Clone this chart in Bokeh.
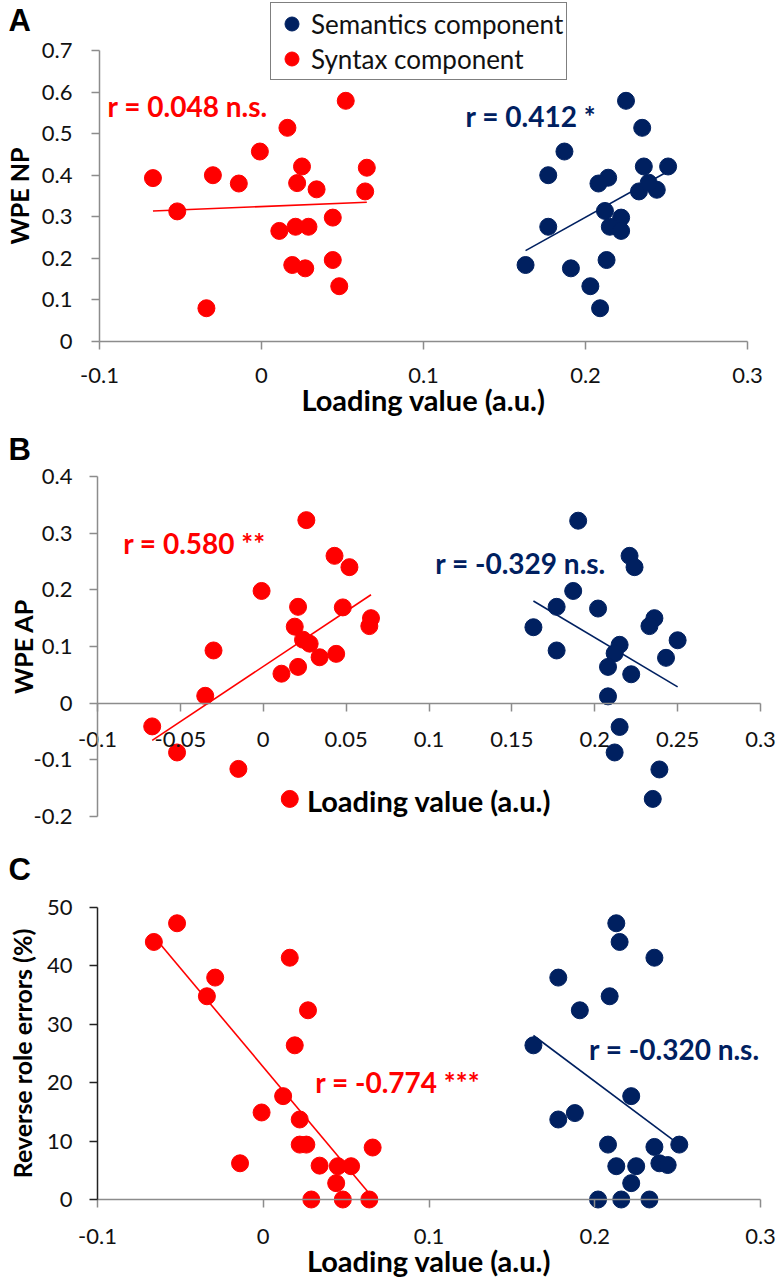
import numpy as np
from bokeh.plotting import figure
from bokeh.models import Range1d, FixedTicker, Label, Legend, LegendItem
from bokeh.core.properties import value
from bokeh.layouts import column
from bokeh.embed import file_html
from bokeh.resources import INLINE

RED = "#FF0000"
NAVY = "#002060"
GRAY = "#8C8C8C"
TEXT = "#111111"
FONT = "Lato"

# ---------------- data ----------------
# Panel A: WPE NP
A_syn_x = [-0.067, -0.052, -0.030, -0.014, -0.034, -0.001, 0.016, 0.025, 0.022, 0.034, 0.011,
           0.021, 0.029, 0.044, 0.019, 0.027, 0.044, 0.048, 0.052, 0.065, 0.064]
A_syn_y = [0.393, 0.313, 0.400, 0.380, 0.080, 0.457, 0.514, 0.421, 0.381, 0.366, 0.266,
           0.276, 0.276, 0.298, 0.184, 0.176, 0.196, 0.133, 0.579, 0.418, 0.361]
A_sem_x = [0.225, 0.235, 0.187, 0.177, 0.214, 0.208, 0.236, 0.251, 0.233, 0.244, 0.239,
           0.177, 0.212, 0.222, 0.215, 0.222, 0.163, 0.191, 0.213, 0.203, 0.209]
A_sem_y = [0.579, 0.514, 0.457, 0.400, 0.394, 0.380, 0.421, 0.421, 0.361, 0.365, 0.382,
           0.276, 0.314, 0.298, 0.276, 0.266, 0.184, 0.176, 0.196, 0.133, 0.080]

# Panel B: WPE AP
B_syn_x = [-0.067, -0.052, -0.030, -0.035, -0.015, -0.001, 0.016, 0.011, 0.021, 0.019, 0.021,
           0.024, 0.028, 0.026, 0.034, 0.044, 0.043, 0.052, 0.048, 0.065, 0.064]
B_syn_y = [-0.041, -0.087, 0.093, 0.013, -0.116, 0.198, -0.169, 0.052, 0.170, 0.135, 0.064,
           0.112, 0.105, 0.323, 0.081, 0.087, 0.260, 0.240, 0.169, 0.150, 0.136]
B_sem_x = [0.190, 0.221, 0.224, 0.187, 0.177, 0.202, 0.163, 0.177, 0.236, 0.233, 0.250,
           0.215, 0.212, 0.243, 0.208, 0.222, 0.208, 0.215, 0.212, 0.239, 0.235]
B_sem_y = [0.322, 0.260, 0.240, 0.198, 0.170, 0.167, 0.134, 0.093, 0.150, 0.136, 0.111,
           0.103, 0.088, 0.080, 0.064, 0.051, 0.012, -0.042, -0.087, -0.117, -0.169]

# Panel C: Reverse role errors (%)
C_syn_x = [-0.066, -0.052, -0.029, -0.034, -0.014, -0.001, 0.016, 0.012, 0.019, 0.022, 0.022,
           0.026, 0.027, 0.034, 0.029, 0.044, 0.045, 0.048, 0.053, 0.066, 0.064]
C_syn_y = [44.1, 47.3, 38.0, 34.8, 6.2, 14.9, 41.4, 17.7, 26.4, 13.7, 9.4,
           9.4, 32.4, 5.8, 0.0, 2.8, 5.7, 0.0, 5.7, 8.9, 0.0]
C_sem_x = [0.213, 0.215, 0.236, 0.178, 0.209, 0.191, 0.163, 0.222, 0.178, 0.188, 0.208,
           0.236, 0.251, 0.213, 0.225, 0.239, 0.244, 0.222, 0.202, 0.216, 0.233]
C_sem_y = [47.3, 44.1, 41.4, 38.0, 34.8, 32.4, 26.4, 17.7, 13.7, 14.8, 9.4,
           9.0, 9.4, 5.7, 5.7, 6.2, 5.9, 2.8, 0.0, 0.0, 0.0]

SERIES_NAMES = ["Semantics component", "Syntax component"]
R_TEXT_A = ["r = 0.412 *", "r = 0.048 n.s."]
R_TEXT_B = ["r = -0.329 n.s.", "r = 0.580 **"]
R_TEXT_C = ["r = -0.320 n.s.", "r = -0.774 ***"]

X_TICKS = [-0.1, 0.0, 0.1, 0.2, 0.3]
X_TICK_LABELS = ["-0.1", "0", "0.1", "0.2", "0.3"]
X_TICKS_B = [-0.1, -0.05, 0.0, 0.05, 0.1, 0.15, 0.2, 0.25, 0.3]
X_TICK_LABELS_B = ["-0.1", "-0.05", "0", "0.05", "0.1", "0.15", "0.2", "0.25", "0.3"]
Y_TICKS_A = [0.0, 0.1, 0.2, 0.3, 0.4, 0.5, 0.6, 0.7]
Y_TICK_LABELS_A = ["0", "0.1", "0.2", "0.3", "0.4", "0.5", "0.6", "0.7"]
Y_TICKS_B = [-0.2, -0.1, 0.0, 0.1, 0.2, 0.3, 0.4]
Y_TICK_LABELS_B = ["-0.2", "-0.1", "0", "0.1", "0.2", "0.3", "0.4"]
Y_TICKS_C = [0, 10, 20, 30, 40, 50]
Y_TICK_LABELS_C = ["0", "10", "20", "30", "40", "50"]

W = 778


def rng(v0, p0, v1, p1, size):
    """Range such that value v0 sits at pixel p0 and v1 at pixel p1 (pixels from low end)."""
    k = (v1 - v0) / (p1 - p0)
    return Range1d(start=v0 - p0 * k, end=v0 + (size - p0) * k), k


def style_axis(ax, ticks, labels, line_color=GRAY):
    ax.ticker = FixedTicker(ticks=ticks)
    ax.major_label_overrides = dict(zip(ticks, labels))
    ax.minor_tick_line_color = None
    ax.major_tick_in = 0
    ax.major_tick_out = 8
    ax.axis_line_color = line_color
    ax.axis_line_width = 1.5
    ax.major_tick_line_color = line_color
    ax.major_tick_line_width = 1.5
    ax.major_label_text_font = FONT
    ax.major_label_text_font_size = "22px"
    ax.major_label_text_color = TEXT
    ax.axis_label_text_font = FONT
    ax.axis_label_text_font_style = "bold"
    ax.axis_label_text_font_size = "29px"
    ax.axis_label_text_color = "#000000"


def panel(h, xrk, yrk, xt, xl, yt, yl, ylabel, ylabel_x, letter, letter_y,
          sem, syn, rtexts, rpos, x_std, x_lab_std, ylab_gap, y_line=GRAY):
    xr, kx = xrk
    yr, _ = yrk
    p = figure(width=W, height=h, x_range=xr, y_range=yr, title=None,
               toolbar_location=None, output_backend="svg", min_border=0)
    p.outline_line_color = None
    p.xgrid.visible = False
    p.ygrid.visible = False
    p.background_fill_color = "white"

    xa = p.xaxis[0]
    ya = p.yaxis[0]
    xa.fixed_location = 0
    ya.fixed_location = -0.1
    style_axis(xa, xt, xl)
    style_axis(ya, yt, [""] * len(yt), y_line)
    xa.bounds = (xt[0], xt[-1])
    ya.bounds = (yt[0], yt[-1])
    xa.axis_label = "Loading value (a.u.)"
    xa.major_label_standoff = x_std
    xa.axis_label_standoff = x_lab_std

    # y tick labels, right-aligned at a fixed pixel gap left of the axis line
    lab_x = -0.1 - ylab_gap * kx
    p.text(x=[lab_x] * len(yt), y=yt, text=yl,
           text_align="right", text_baseline="middle", text_font=value(FONT),
           text_font_size="22px", text_color=TEXT)
    # y axis title
    p.add_layout(Label(x=ylabel_x, y=(yt[0] + yt[-1]) / 2, x_units="screen", text=ylabel,
                       angle=90, angle_units="deg", text_align="center",
                       text_baseline="middle", text_font=FONT, text_font_style="bold",
                       text_font_size="25px", text_color="#000000"))

    rends = []
    for (xs, ys), col in zip([sem, syn], [NAVY, RED]):
        xs = np.asarray(xs, dtype=float)
        ys = np.asarray(ys, dtype=float)
        k, b = np.polyfit(xs, ys, 1)
        lx = np.array([xs.min(), xs.max()])
        p.line(lx, k * lx + b, line_color=col, line_width=1.6)
        r = p.scatter(xs, ys, size=17, fill_color=col, line_color=col)
        rends.append(r)

    for txt, (tx, ty), col in zip(rtexts, rpos, [NAVY, RED]):
        p.add_layout(Label(x=tx, y=ty, text=txt, text_color=col, text_font=FONT,
                           text_font_style="bold", text_font_size="28px",
                           text_baseline="middle", text_align="left"))

    p.add_layout(Label(x=8, y=letter_y, x_units="screen", y_units="screen", text=letter,
                       text_font="Liberation Sans", text_font_style="bold",
                       text_font_size="31px", text_color="#000000",
                       text_baseline="alphabetic", text_align="left"))
    return p, rends


# Panel A  (canvas rows 0..418)
hA = 418
pA, rA = panel(hA, rng(-0.1, 99, 0.3, 747, W), rng(0.0, 77, 0.7, 368, hA),
               X_TICKS, X_TICK_LABELS, Y_TICKS_A, Y_TICK_LABELS_A, "WPE NP", 18, "A", 398,
               (A_sem_x, A_sem_y), (A_syn_x, A_syn_y), R_TEXT_A,
               [(0.126, 0.543), (-0.095, 0.567)],
               x_std=18, x_lab_std=-4, ylab_gap=27)
legend = Legend(items=[LegendItem(label=SERIES_NAMES[0], renderers=[rA[0]]),
                       LegendItem(label=SERIES_NAMES[1], renderers=[rA[1]])],
                location=(270, 338), margin=0, padding=3, spacing=0,
                glyph_width=35, glyph_height=35, label_standoff=2,
                label_text_font=FONT, label_text_font_size="26px",
                label_text_color=TEXT, label_text_baseline="middle",
                border_line_color="#000000", border_line_width=1.5,
                background_fill_color="white", background_fill_alpha=1.0)
pA.add_layout(legend)

# Panel B  (canvas rows 418..830)
hB = 412
pB, _ = panel(hB, rng(-0.1, 97, 0.3, 760, W), rng(-0.2, 14, 0.4, 354, hB),
              X_TICKS_B, X_TICK_LABELS_B, Y_TICKS_B, Y_TICK_LABELS_B, "WPE AP", 22, "B", 381,
              (B_sem_x, B_sem_y), (B_syn_x, B_syn_y), R_TEXT_B,
              [(0.1038, 0.247), (-0.0845, 0.283)],
              x_std=21, x_lab_std=32, ylab_gap=25)

# Panel C  (canvas rows 830..1278)
hC = 448
pC, _ = panel(hC, rng(-0.1, 97, 0.3, 760, W), rng(0.0, 79, 50.0, 371, hC),
              X_TICKS, X_TICK_LABELS, Y_TICKS_C, Y_TICK_LABELS_C, "Reverse role errors (%)", 21, "C", 409,
              (C_sem_x, C_sem_y), (C_syn_x, C_syn_y), R_TEXT_C,
              [(0.1966, 25.8), (0.0314, 20.1)],
              x_std=21, x_lab_std=-4, ylab_gap=25, y_line="#222222")

layout = column(pA, pB, pC, spacing=0)
open("out.html", "w").write(file_html(layout, INLINE))
